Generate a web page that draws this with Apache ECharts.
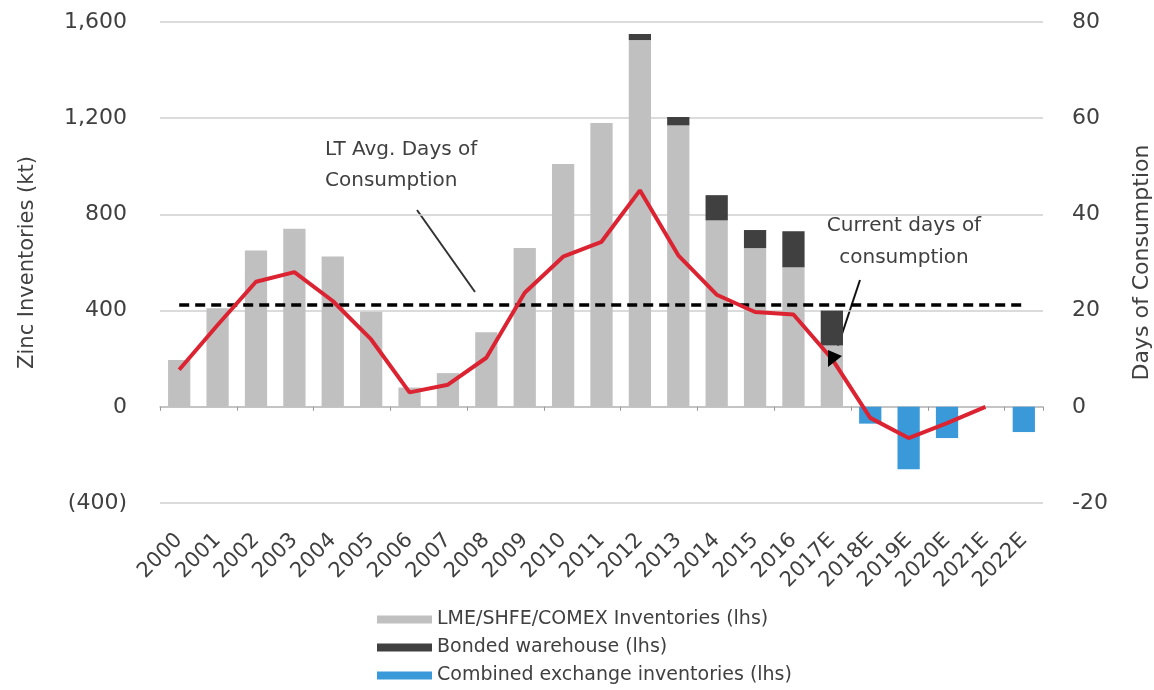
<!DOCTYPE html>
<html>
<head>
<meta charset="utf-8">
<script src="https://cdn.jsdelivr.net/npm/echarts@6/dist/echarts.min.js"></script>
<style>
  html, body { margin: 0; padding: 0; background: #fff; }
  #chart { width: 1154px; height: 690px; }
</style>
</head>
<body>
<div id="chart"></div>
<script>
// Zinc inventories (kt) and days of consumption, 2000–2022E
const years = ['2000','2001','2002','2003','2004','2005','2006','2007','2008','2009','2010','2011',
               '2012','2013','2014','2015','2016','2017E','2018E','2019E','2020E','2021E','2022E'];

const exchangeInv = [195, 410, 650, 740, 625, 395, 80, 140, 310, 660, 1010, 1180,
                     1525, 1170, 775, 660, 580, 255, null, null, null, null, null];
const bondedInv   = [null, null, null, null, null, null, null, null, null, null, null, null,
                     25, 35, 105, 75, 150, 145, null, null, null, null, null];
const combinedInv = [null, null, null, null, null, null, null, null, null, null, null, null,
                     null, null, null, null, null, null, -70, -260, -130, 0, -105];
const daysOfConsumption = [7.7, 17, 26, 28, 22, 14, 3, 4.6, 10.2, 23.7, 31.2, 34.3,
                           45, 31.5, 23.3, 19.7, 19.2, 10, -2.3, -6.5, -3.4, 0, null];
const ltAvgDays = 21.2;

const leftTicks = { min: -400, max: 1600, interval: 400 };
const rightTicks = { min: -20, max: 80, interval: 20 };

const FONT = '"DejaVu Sans", sans-serif';
const TXT = '#404040';
const GRID_COL = '#cfcfcf';

function fmtKt(v) {
  const s = Math.abs(v).toLocaleString('en-US');
  return v < 0 ? '(' + s + ')' : s;
}

const chart = echarts.init(document.getElementById('chart'), null, { renderer: 'canvas' });

chart.setOption({
  animation: false,
  backgroundColor: '#ffffff',
  textStyle: { fontFamily: FONT, color: TXT },
  grid: { left: 160, right: 111, top: 22, bottom: 187, containLabel: false, outerBoundsMode: 'none' },
  legend: {
    orient: 'vertical',
    left: 377,
    top: 610,
    padding: 0,
    itemWidth: 55,
    itemHeight: 8,
    itemGap: 9,
    icon: 'rect',
    textStyle: { fontFamily: FONT, fontSize: 19, color: TXT, padding: [0, 0, 0, 0] },
    data: ['LME/SHFE/COMEX Inventories (lhs)', 'Bonded warehouse (lhs)', 'Combined exchange inventories (lhs)']
  },
  xAxis: [
    {
      // labels along the bottom of the plot
      type: 'category',
      data: years,
      position: 'bottom',
      axisLine: { show: false, onZero: false },
      axisTick: { show: false },
      axisLabel: { rotate: 45, fontSize: 21, color: TXT, margin: 34, interval: 0, fontFamily: FONT }
    },
    {
      // zero line with tick marks
      type: 'category',
      data: years,
      position: 'bottom',
      axisLine: { show: true, onZero: true, lineStyle: { color: '#bdbdbd', width: 1.5 } },
      axisTick: { show: true, length: 4, lineStyle: { color: '#9a9a9a' } },
      axisLabel: { show: false }
    }
  ],
  yAxis: [
    {
      type: 'value',
      min: leftTicks.min, max: leftTicks.max, interval: leftTicks.interval,
      name: 'Zinc Inventories (kt)',
      nameLocation: 'middle',
      nameGap: 122,
      nameRotate: 90,
      nameTextStyle: { fontSize: 21, color: TXT, fontFamily: FONT },
      axisLine: { show: false },
      axisTick: { show: false },
      axisLabel: { formatter: fmtKt, fontSize: 22, color: TXT, margin: 33, fontFamily: FONT },
      splitLine: { show: true, lineStyle: { color: GRID_COL, width: 1.5 } }
    },
    {
      type: 'value',
      position: 'right',
      min: rightTicks.min, max: rightTicks.max, interval: rightTicks.interval,
      name: 'Days of Consumption',
      nameLocation: 'middle',
      nameGap: 88,
      nameRotate: 90,
      nameTextStyle: { fontSize: 22, color: TXT, fontFamily: FONT },
      axisLine: { show: false },
      axisTick: { show: false },
      axisLabel: { fontSize: 22, color: TXT, margin: 29, fontFamily: FONT },
      splitLine: { show: false }
    }
  ],
  series: [
    {
      name: 'LME/SHFE/COMEX Inventories (lhs)',
      type: 'bar', stack: 'inv', barCategoryGap: '42%',
      itemStyle: { color: '#c0c0c0' },
      data: exchangeInv
    },
    {
      name: 'Bonded warehouse (lhs)',
      type: 'bar', stack: 'inv',
      itemStyle: { color: '#404040' },
      data: bondedInv
    },
    {
      name: 'Combined exchange inventories (lhs)',
      type: 'bar', stack: 'inv',
      itemStyle: { color: '#3a9ad9' },
      data: combinedInv
    },
    {
      name: 'Days of consumption',
      type: 'line', yAxisIndex: 1,
      symbol: 'none',
      lineStyle: { color: '#dc2331', width: 4 },
      data: daysOfConsumption,
      z: 5,
      markLine: {
        silent: true,
        symbol: ['none', 'none'],
        label: { show: false },
        lineStyle: { color: '#000', width: 3.5, type: [10, 6] },
        data: [[{ coord: ['2000', ltAvgDays] }, { coord: ['2022E', ltAvgDays] }]]
      }
    }
  ],
  graphic: [
    {
      type: 'text', left: 325, top: 134,
      style: { text: 'LT Avg. Days of\nConsumption', font: '20px ' + FONT, fill: TXT, lineHeight: 31 }
    },
    {
      type: 'line', shape: { x1: 417, y1: 210, x2: 475, y2: 292 },
      style: { stroke: '#333', lineWidth: 2 }
    },
    {
      type: 'text', x: 904, y: 210,
      style: { text: 'Current days of\nconsumption', font: '20px ' + FONT, fill: TXT, lineHeight: 32, align: 'center' }
    },
    {
      type: 'line', shape: { x1: 860, y1: 280, x2: 836, y2: 352 },
      style: { stroke: '#111', lineWidth: 2 }
    },
    {
      type: 'polygon', shape: { points: [[828, 367], [828, 350], [842, 356]] },
      style: { fill: '#000' }, z: 10
    }
  ]
});
</script>
</body>
</html>
